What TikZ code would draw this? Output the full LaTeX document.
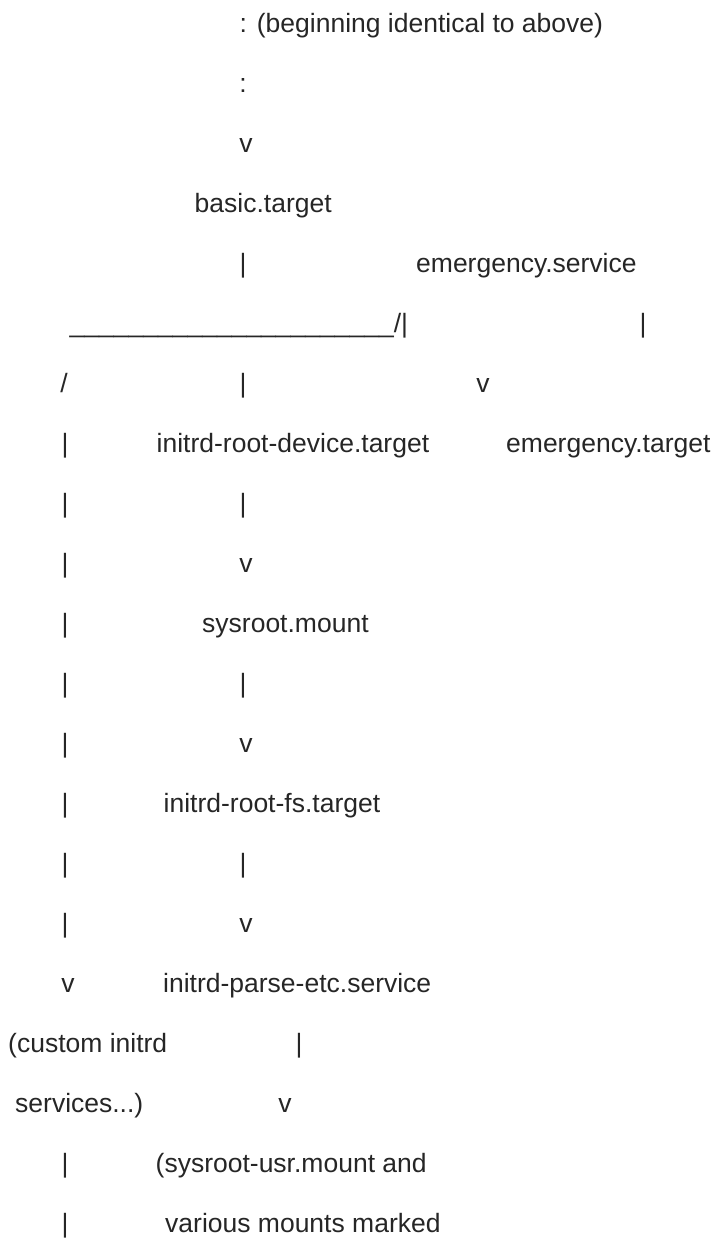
\documentclass[tikz,border=0pt]{standalone}
\usepackage{fontspec}
\setmainfont{Liberation Sans}
\usepackage{tikz}

\begin{document}
\begin{tikzpicture}[x=1pt,y=-1pt]
	\tikzset{txt/.style={anchor=base west,inner sep=0pt,text=black!85,font=\fontsize{26.5}{30}\selectfont}}
	\tikzset{glyph/.style={txt,anchor=base}}
	\useasboundingbox (0,0) rectangle (717,1245);
	\node[txt] (top) at (239.5,32) {: (beginning identical to above)};
	\node[glyph] (dots) at (243,92) {:};
	\node[glyph] (vtop) at (246,152) {v};
	\node[txt] (basic) at (194.5,212) {basic.target};
	\node[txt] (emsvc) at (416,272) {emergency.service};
	\node[txt] (split) at (69.5,332) {\_\_\_\_\_\_\_\_\_\_\_\_\_\_\_\_\_\_\_\_\_\_/|};
	\node[glyph] (embar) at (643,332) {|};
	\node[glyph] (slash) at (64,392) {/};
	\node[glyph] (emv) at (483,392) {v};
	\node[txt] (rootdev) at (156.5,452) {initrd-root-device.target};
	\node[txt] (emtgt) at (506,452) {emergency.target};
	\node[txt] (sysroot) at (202,632) {sysroot.mount};
	\node[txt] (rootfs) at (163.5,812) {initrd-root-fs.target};
	\node[glyph] (lv) at (68,992) {v};
	\node[txt] (parse) at (163,992) {initrd-parse-etc.service};
	\node[txt] (custom) at (8,1052) {(custom initrd};
	\node[glyph] (pbar) at (299,1052) {|};
	\node[txt] (services) at (15,1112) {services...)};
	\node[glyph] (pv) at (285,1112) {v};
	\node[txt] (usr) at (155.5,1172) {(sysroot-usr.mount and};
	\node[txt] (mounts) at (165,1232) {various mounts marked};
	\foreach \n in {8,9,10,11,12,13,14,15,16,20,21}
		\node[glyph] (lbar\n) at (65,{32+60*(\n-1)}) {|};
	\foreach \n in {5,7,9,12,15}
		\node[glyph] (cbar\n) at (243,{32+60*(\n-1)}) {|};
	\foreach \n in {10,13,16}
		\node[glyph] (cv\n) at (246,{32+60*(\n-1)}) {v};
\end{tikzpicture}
\end{document}
